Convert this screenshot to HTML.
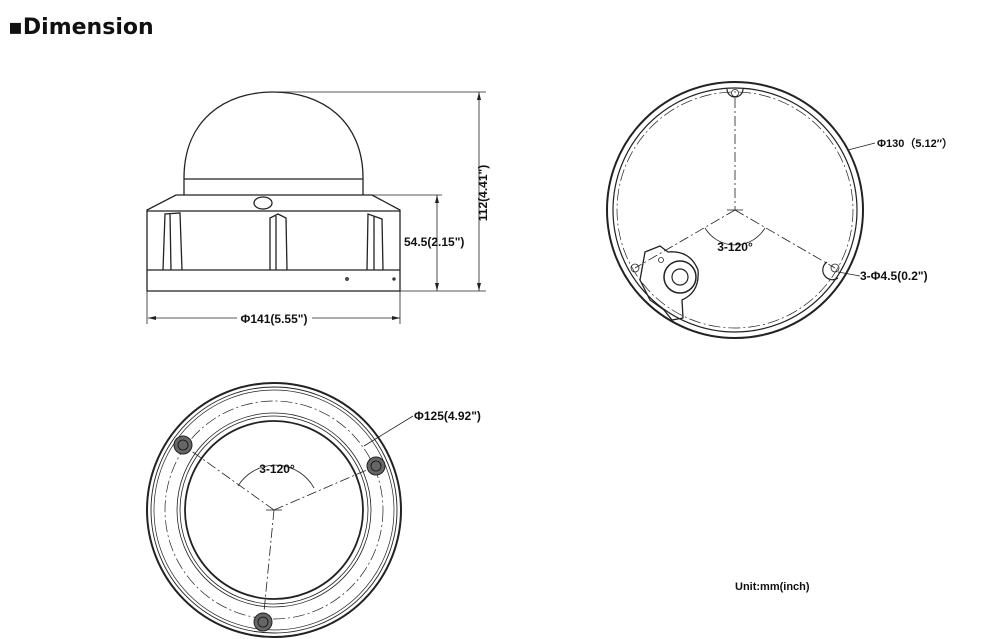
<!DOCTYPE html>
<html><head><meta charset="utf-8"><style>
html,body{margin:0;padding:0;background:#fff;width:981px;height:639px;overflow:hidden}
svg{position:absolute;left:0;top:0}
text{font-family:"Liberation Sans",sans-serif;font-weight:bold;fill:#111}
</style></head><body>
<svg width="981" height="639" viewBox="0 0 981 639">
<text x="8" y="34" font-size="22" style="font-family:'DejaVu Sans',sans-serif">▪Dimension</text>
<!-- side view -->
<g fill="none" stroke="#222" stroke-width="1.3">
<path d="M184,195 L184,178 C184,120 225,92 273,92 C321,92 363,120 363,178 L363,195"/>
<line x1="184" y1="179" x2="363" y2="179"/>
<path d="M176,195 L372,195 L400,210 L400,291 L147,291 L147,210 Z"/>
<line x1="147" y1="211" x2="400" y2="211"/>
<line x1="147" y1="270" x2="400" y2="270"/>
<ellipse cx="263" cy="203" rx="9" ry="6"/>
<path d="M163,270 L165,214 L180,213 L182,270 M170,214 L171,270"/>
<path d="M270,270 L270,218 L278,214 L286,218 L287,270 M276,216 L276,270"/>
<path d="M367,270 L368,214 L382,219 L383,270 M374,216 L374,270"/>
<circle cx="347" cy="279" r="1.2"/><circle cx="394" cy="279" r="1"/>
<g stroke-width="0.8">
<line x1="273" y1="92" x2="486" y2="92"/><line x1="400" y1="291" x2="486" y2="291"/>
<line x1="479" y1="92" x2="479" y2="291"/>
<line x1="372" y1="195" x2="442" y2="195"/>
<line x1="437" y1="195" x2="437" y2="291"/>
<line x1="147" y1="291" x2="147" y2="324"/><line x1="400" y1="291" x2="400" y2="324"/>
<line x1="148" y1="318" x2="237" y2="318"/><line x1="312" y1="318" x2="400" y2="318"/>
</g></g>
<g fill="#222">
<path d="M479,92 l-2,8 h4z M479,291 l-2,-8 h4z M437,195 l-2,8 h4z M437,291 l-2,-8 h4z M148,318 l8,-2 v4z M400,318 l-8,-2 v4z"/>
</g>
<text x="274" y="323" font-size="12" text-anchor="middle">Φ141(5.55")</text>
<text x="404" y="246" font-size="12">54.5(2.15")</text>
<text transform="translate(487,193) rotate(-90)" font-size="12" text-anchor="middle">112(4.41")</text>
<!-- top right -->
<g fill="none" stroke="#222">
<circle cx="735" cy="210" r="128" stroke-width="2"/>
<circle cx="735" cy="210" r="122" stroke-width="1.2"/>
<circle cx="735" cy="210" r="118" stroke-width="0.7" stroke-dasharray="12 3 2 3"/>
<g stroke-width="0.8" stroke-dasharray="10 3 2 3">
<line x1="735" y1="98" x2="735" y2="210"/>
<line x1="735" y1="210" x2="835" y2="268"/>
<line x1="735" y1="210" x2="635" y2="268"/>
</g>
<line x1="727" y1="210" x2="743" y2="210" stroke-width="0.8"/>
<path d="M705,228 A35,35 0 0 0 765,228" stroke-width="0.8"/>
<path d="M727,89 A8,8 0 0 0 743,89" stroke-width="1.2"/>
<circle cx="735" cy="93" r="3.5" stroke-width="0.8"/>
<circle cx="835" cy="268" r="4" stroke-width="0.8"/>
<path d="M827,262 A9,9 0 0 0 838,278" stroke-width="1.2"/>
<circle cx="635" cy="268" r="4" stroke-width="0.8"/>
<path d="M645,252 L660,246 L668,252 Q690,250 698,270 Q700,292 682,300 L683,318 L672,320 L664,310 L650,300 L640,280 Z" stroke-width="1.3"/>
<circle cx="680" cy="277" r="16" stroke-width="1.5"/>
<circle cx="680" cy="277" r="8" stroke-width="1.2"/>
<circle cx="661" cy="260" r="2.5" stroke-width="0.8"/>
<line x1="848" y1="150" x2="875" y2="143" stroke-width="0.8"/>
<line x1="838" y1="272" x2="860" y2="276" stroke-width="0.8"/>
</g>
<text x="877" y="147" font-size="11">Φ130（5.12″）</text>
<text x="860" y="280" font-size="12">3-Φ4.5(0.2")</text>
<text x="735" y="251" font-size="12" text-anchor="middle">3-120°</text>
<!-- bottom left -->
<g fill="none" stroke="#222">
<circle cx="274" cy="510" r="127" stroke-width="2"/>
<circle cx="274" cy="510" r="123" stroke-width="0.9"/>
<circle cx="274" cy="510" r="120" stroke-width="0.7"/>
<circle cx="274" cy="510" r="109" stroke-width="0.7" stroke-dasharray="12 3 2 3"/>
<circle cx="274" cy="510" r="97" stroke-width="0.8"/>
<circle cx="274" cy="510" r="94" stroke-width="0.8"/>
<circle cx="274" cy="510" r="89" stroke-width="1.8"/>
<g stroke-width="0.8" stroke-dasharray="10 3 2 3">
<line x1="274" y1="510" x2="183" y2="445"/>
<line x1="274" y1="510" x2="376" y2="466"/>
<line x1="274" y1="510" x2="263" y2="622"/>
</g>
<line x1="266" y1="510" x2="282" y2="510" stroke-width="0.8"/>
<path d="M238,486 A44,44 0 0 1 314,488" stroke-width="0.8"/>
<line x1="364" y1="446" x2="413" y2="416" stroke-width="0.8"/>
</g>
<g fill="#666" stroke="#222">
<circle cx="183" cy="445" r="9"/><circle cx="376" cy="466" r="9"/><circle cx="263" cy="622" r="9"/>
</g>
<g fill="none" stroke="#111" stroke-width="0.8">
<circle cx="183" cy="445" r="5"/><circle cx="376" cy="466" r="5"/><circle cx="263" cy="622" r="5"/>
</g>
<text x="414" y="420" font-size="12">Φ125(4.92")</text>
<text x="277" y="473" font-size="12" text-anchor="middle">3-120°</text>
<text x="735" y="590" font-size="11">Unit:mm(inch)</text>
</svg>
</body></html>
